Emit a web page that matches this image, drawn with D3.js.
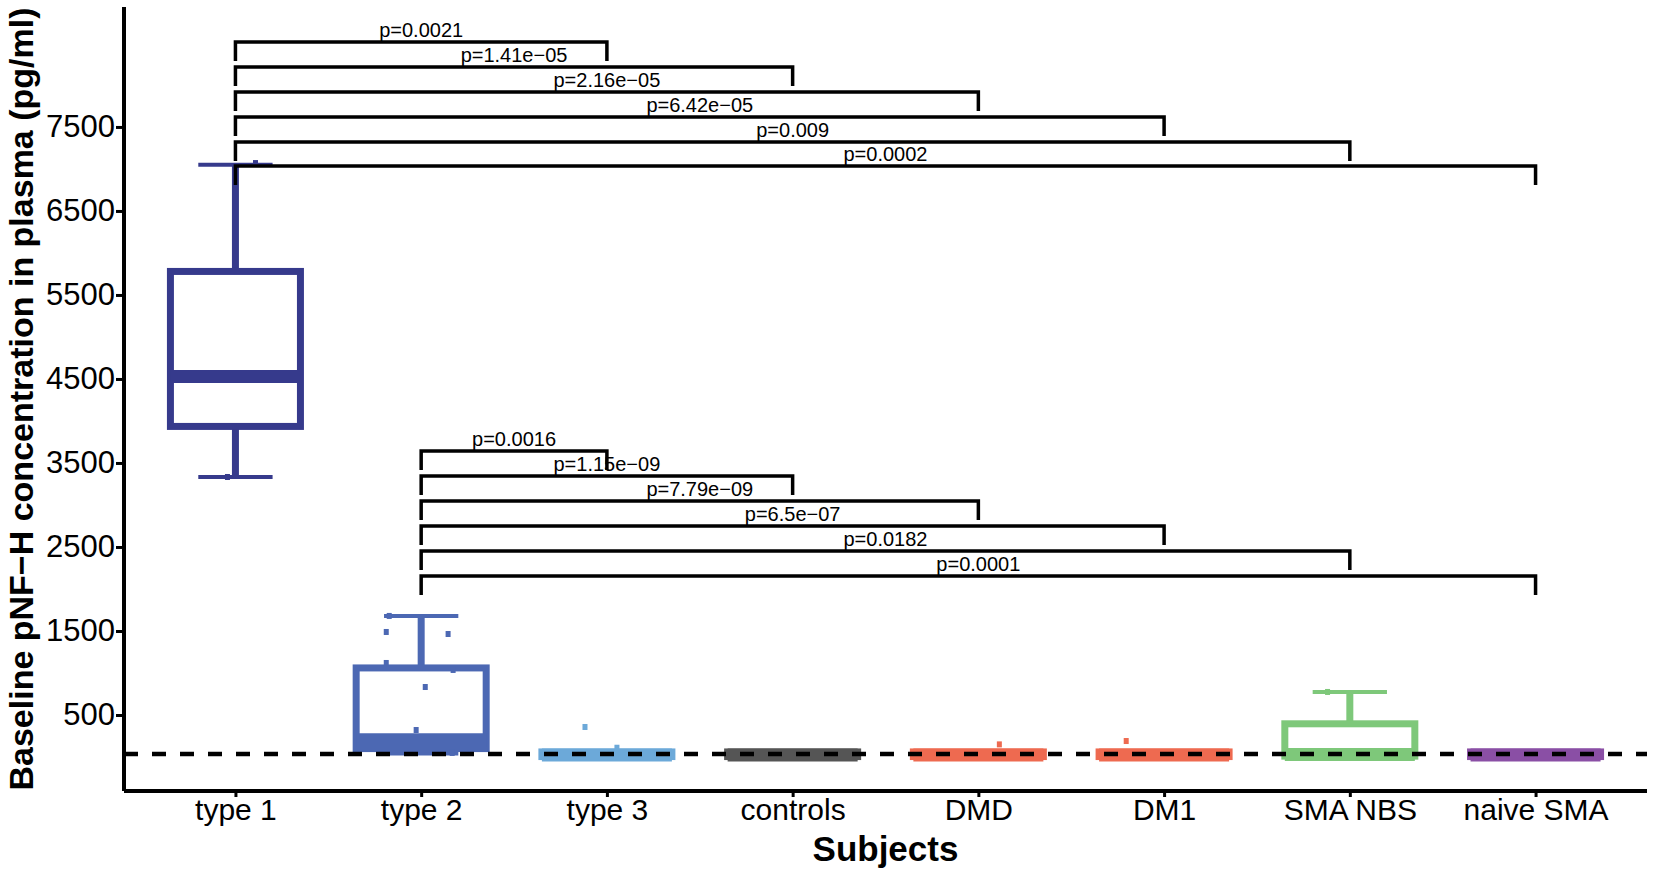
<!DOCTYPE html>
<meta charset="utf-8">
<style>
body { margin: 0; background: #fff; }
svg { display: block; font-family: "Liberation Sans", Arial, sans-serif; }
.axis text { font-size: 31px; fill: #000; }
.x.axis text { font-size: 30px; }
.axis path, .axis line { stroke: #000; }
.title { font-weight: bold; fill: #000; }
.plab { font-size: 20px; fill: #000; text-anchor: middle; }
</style>
<svg width="1654" height="873"></svg>
<script src="https://d3js.org/d3.v7.min.js"></script>
<script>
// groups
var categories = ["type 1", "type 2", "type 3", "controls", "DMD", "DM1", "SMA NBS", "naive SMA"];
var colors = ["#363a8c", "#4c68b3", "#6ca9d9", "#555555", "#ee6a50", "#ee6a50", "#7ec87a", "#8a4fa5"];

// box stats
var q1 = [3935, 100, 5, 5, 5, 5, 10, 5];
var median = [4530, 205, 25, 25, 25, 25, 30, 25];
var q3 = [5780, 1060, 60, 60, 60, 60, 395, 60];
var whiskerLow = [3333, 40, 0, 0, 0, 0, 5, 0];
var whiskerHigh = [7050, 1679, 70, 40, 70, 70, 774, 40];

// jittered points (group index, value, jitter as share of the step)
var pointGroup = [0, 0, 1, 1, 1, 1, 1, 1, 1, 1, 2, 2, 4, 5, 6];
var pointValue = [7070, 3333, 1679, 1488, 1464, 1119, 1036, 833, 321, 48, 357, 110, 150, 190, 774];
var pointJitter = [0.108, -0.043, -0.172, -0.188, 0.145, -0.188, 0.172, 0.022, -0.027, 0.167, -0.118, 0.054, 0.113, -0.204, -0.12];

// comparisons
var bracketFrom = [0, 0, 0, 0, 0, 0, 1, 1, 1, 1, 1, 1];
var bracketTo = [2, 3, 4, 5, 6, 7, 2, 3, 4, 5, 6, 7];
var bracketY = [8512, 8214, 7917, 7619, 7321, 7036, 3643, 3345, 3048, 2750, 2452, 2155];
var bracketLabel = ["p=0.0021", "p=1.41e\u221205", "p=2.16e\u221205", "p=6.42e\u221205", "p=0.009", "p=0.0002",
                    "p=0.0016", "p=1.15e\u221209", "p=7.79e\u221209", "p=6.5e\u221207", "p=0.0182", "p=0.0001"];

var refLine = 35;
var yTicks = [500, 1500, 2500, 3500, 4500, 5500, 6500, 7500];

var svg = d3.select("svg");
var padL = 124, padR = 1647, padT = 7, padB = 791;

var x = d3.scalePoint().domain(categories).range([padL, padR]).padding(0.6);
var y = d3.scaleLinear().domain([-405, 8928]).range([padB, padT]);
var step = x.step();
var boxW = step * 0.7, capW = step * 0.4;

// boxes
var box = svg.append("g").selectAll("g").data(categories).enter().append("g");
box.each(function(c, i) {
  var g = d3.select(this), cx = x(c), col = colors[i];
  g.append("line").attr("x1", cx).attr("x2", cx).attr("y1", y(q3[i])).attr("y2", y(whiskerHigh[i]))
    .attr("stroke", col).attr("stroke-width", 7);
  g.append("line").attr("x1", cx).attr("x2", cx).attr("y1", y(q1[i])).attr("y2", y(whiskerLow[i]))
    .attr("stroke", col).attr("stroke-width", 7);
  g.append("line").attr("x1", cx - capW / 2).attr("x2", cx + capW / 2)
    .attr("y1", y(whiskerHigh[i])).attr("y2", y(whiskerHigh[i])).attr("stroke", col).attr("stroke-width", 4);
  g.append("line").attr("x1", cx - capW / 2).attr("x2", cx + capW / 2)
    .attr("y1", y(whiskerLow[i])).attr("y2", y(whiskerLow[i])).attr("stroke", col).attr("stroke-width", 4);
  g.append("rect").attr("x", cx - boxW / 2).attr("width", boxW)
    .attr("y", y(q3[i])).attr("height", y(q1[i]) - y(q3[i]))
    .attr("fill", "#fff").attr("stroke", col).attr("stroke-width", 7);
  g.append("line").attr("x1", cx - boxW / 2).attr("x2", cx + boxW / 2)
    .attr("y1", y(median[i])).attr("y2", y(median[i])).attr("stroke", col).attr("stroke-width", 13);
});

// points
svg.append("g").selectAll("rect").data(pointValue).enter().append("rect")
  .attr("x", function(d, i) { return x(categories[pointGroup[i]]) + pointJitter[i] * step - 2.5; })
  .attr("y", function(d) { return y(d) - 3; })
  .attr("width", 5).attr("height", 6)
  .attr("fill", function(d, i) { return colors[pointGroup[i]]; });

// dashed reference line
svg.append("line").attr("x1", padL).attr("x2", padR).attr("y1", y(refLine)).attr("y2", y(refLine))
  .attr("stroke", "#000").attr("stroke-width", 4.5).attr("stroke-dasharray", "14,14");

// brackets
var tick = 19;
var br = svg.append("g").selectAll("g").data(bracketY).enter().append("g");
br.append("path")
  .attr("d", function(d, i) {
    var x1 = x(categories[bracketFrom[i]]), x2 = x(categories[bracketTo[i]]), yy = y(d);
    return "M" + x1 + "," + (yy + tick) + "V" + yy + "H" + x2 + "V" + (yy + tick);
  })
  .attr("fill", "none").attr("stroke", "#000").attr("stroke-width", 3.5);
br.append("text").attr("class", "plab")
  .attr("x", function(d, i) { return (x(categories[bracketFrom[i]]) + x(categories[bracketTo[i]])) / 2; })
  .attr("y", function(d) { return y(d) - 5; })
  .text(function(d, i) { return bracketLabel[i]; });

// axes
var yAxis = svg.append("g").attr("class", "y axis").attr("transform", "translate(" + padL + ",0)")
  .call(d3.axisLeft(y).tickValues(yTicks).tickSize(8).tickSizeOuter(0).tickPadding(1).tickFormat(d3.format("d")));
var xAxis = svg.append("g").attr("class", "x axis").attr("transform", "translate(0," + padB + ")")
  .call(d3.axisBottom(x).tickSize(6).tickSizeOuter(0).tickPadding(2));
svg.selectAll(".axis path").attr("stroke-width", 4);
svg.selectAll(".axis line").attr("stroke-width", 3);
yAxis.select("path").attr("d", "M0," + padT + "V" + padB);
xAxis.select("path").attr("d", "M" + padL + ",0H" + padR);

// titles
svg.append("text").attr("class", "title")
  .attr("transform", "translate(33," + (padT + padB) / 2 + ") rotate(-90)")
  .attr("text-anchor", "middle").style("font-size", "34px")
  .text("Baseline pNF\u2212H concentration in plasma (pg/ml)");
svg.append("text").attr("class", "title")
  .attr("x", (padL + padR) / 2).attr("y", 861)
  .attr("text-anchor", "middle").style("font-size", "35px")
  .text("Subjects");
</script>
